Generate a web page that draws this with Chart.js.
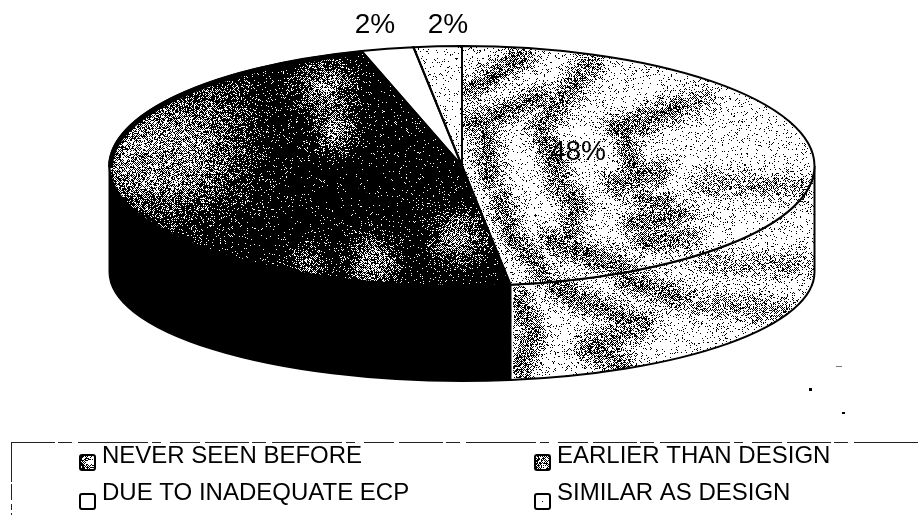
<!DOCTYPE html>
<html lang="en">
<head>
    <meta charset="UTF-8">
    <title>Pie chart</title>
    <style>
        html, body { margin: 0; padding: 0; background: #fff; }
        #wrap { width: 918px; height: 515px; }
    </style>
    <script src="https://cdn.jsdelivr.net/npm/chart.js"></script>
</head>
<body>
    <div id="wrap"><canvas id="pie" width="918" height="515"></canvas></div>

    <script>
        const categories = ['NEVER SEEN BEFORE', 'EARLIER THAN DESIGN', 'DUE TO INADEQUATE ECP', 'SIMILAR AS DESIGN'];
        const sliceValues = [47.8, 47.6, 2.4, 2.2];

        // ellipse of the tilted pie, top face and bottom rim
        const pie = { cx: 462, cy: 166, rx: 352.5, ry: 120, wallCy: 272, wallRy: 109 };
        const labelSpots = [[578, 152], [372, 185], [375, 25], [448, 25]];
        const legendSpots = [[80, 102, 456], [535, 557, 456], [80, 102, 493], [535, 557, 493]];

        // scanned halftone: grey bands on the light slice, blotches on the dark one
        const lightBands = [
            [473, 87, 520, 57], [473, 123, 540, 97], [483, 125, 490, 177], [540, 127, 590, 63],
            [617, 128, 703, 100], [545, 140, 560, 180], [625, 135, 633, 165], [557, 180, 577, 203],
            [577, 203, 567, 237], [550, 240, 600, 260], [600, 260, 623, 267], [500, 200, 513, 237],
            [513, 237, 543, 273], [617, 183, 657, 173], [643, 197, 663, 203], [633, 223, 687, 213],
            [643, 240, 690, 237], [700, 183, 800, 187], [557, 287, 610, 313], [610, 313, 643, 323],
            [627, 280, 700, 303], [700, 303, 783, 310], [707, 263, 800, 263], [520, 300, 533, 333],
            [533, 333, 520, 367], [587, 347, 633, 327], [587, 347, 623, 363]
        ];
        const darkBlobs = [
            [175, 150, 58, 0.6], [130, 165, 30, 0.35], [325, 88, 26, 0.5], [335, 132, 18, 0.45],
            [230, 95, 30, 0.12], [373, 263, 22, 0.55], [457, 237, 24, 0.5], [307, 263, 16, 0.35]
        ];

        function noise(x, y) {
            let h = (x * 374761393 + y * 668265263) | 0;
            h = Math.imul(h ^ (h >>> 13), 1274126177);
            h ^= h >>> 16;
            return (h >>> 0) / 4294967296;
        }

        function segDist(x, y, b) {
            const dx = b[2] - b[0], dy = b[3] - b[1];
            let t = ((x - b[0]) * dx + (y - b[1]) * dy) / (dx * dx + dy * dy);
            t = Math.max(0, Math.min(1, t));
            return Math.hypot(x - b[0] - t * dx, y - b[1] - t * dy);
        }

        // denser areas lean on a checkerboard, like the halftone in the scan
        function makeTexture(inkAt) {
            const c = document.createElement('canvas');
            c.width = 918;
            c.height = 515;
            const g = c.getContext('2d');
            const img = g.createImageData(918, 515);
            for (let y = 0; y < 515; y++) {
                for (let x = 0; x < 918; x++) {
                    const ink = inkAt(x, y);
                    const weight = Math.min(1, Math.max(0, (0.5 - Math.abs(ink - 0.5)) * 3));
                    const p = ink + weight * 0.45 * ((x + y) % 2 ? 0.5 : -0.5);
                    const v = noise(x, y) < p ? 0 : 255;
                    const i = (y * 918 + x) * 4;
                    img.data[i] = img.data[i + 1] = img.data[i + 2] = v;
                    img.data[i + 3] = 255;
                }
            }
            g.putImageData(img, 0, 0);
            return c;
        }

        const lightTexture = makeTexture((x, y) => {
            if (y < 40 || y > 390 || x < 455 || x > 825) return 0.08;
            let d = 99;
            for (const b of lightBands) d = Math.min(d, segDist(x, y, b));
            const fade = x > 680 ? 0.3 : 0.5;
            return 0.07 + fade * Math.exp(-d * d / 170);
        });
        const darkTexture = makeTexture((x, y) => {
            let white = 0.03;
            for (const b of darkBlobs) {
                const d = Math.hypot(x - b[0], y - b[1]);
                white += b[3] * Math.exp(-d * d / (b[2] * b[2]));
            }
            return 1 - Math.min(0.55, white);
        });
        const speckTexture = makeTexture(() => 0.06);

        const patternCtx = document.createElement('canvas').getContext('2d');
        const fills = [
            patternCtx.createPattern(lightTexture, 'no-repeat'),
            patternCtx.createPattern(darkTexture, 'no-repeat'),
            '#ffffff',
            patternCtx.createPattern(speckTexture, 'no-repeat')
        ];

        function wallPath(ctx, a0, a1) {
            ctx.beginPath();
            ctx.ellipse(pie.cx, pie.cy, pie.rx, pie.ry, 0, a0, a1);
            ctx.ellipse(pie.cx, pie.wallCy, pie.rx, pie.wallRy, 0, a1, a0, true);
            ctx.closePath();
        }

        const tiltedPie = {
            id: 'tiltedPie',
            beforeDatasetsDraw(chart) {
                const ctx = chart.ctx;
                const arcs = chart.getDatasetMeta(0).data;
                // side wall, only the front half of the rim shows
                arcs.forEach((arc, i) => {
                    const a0 = Math.max(arc.startAngle, 0);
                    const a1 = Math.min(arc.endAngle, Math.PI);
                    if (a1 <= a0) return;
                    ctx.save();
                    wallPath(ctx, a0, a1);
                    ctx.clip();
                    if (i === 0) ctx.drawImage(lightTexture, 0, 0);
                    else { ctx.fillStyle = '#000'; ctx.fillRect(0, 0, 918, 515); }
                    ctx.restore();
                    ctx.lineWidth = 2;
                    ctx.strokeStyle = '#000';
                    wallPath(ctx, a0, a1);
                    ctx.stroke();
                });
                const a = arcs[0];
                ctx.save();
                ctx.translate(pie.cx, pie.cy);
                ctx.scale(pie.rx / a.outerRadius, pie.ry / a.outerRadius);
                ctx.translate(-a.x, -a.y);
                // keep the halftone in page pixels, not squashed with the pie
                const inv = ctx.getTransform().inverse();
                fills.forEach(f => { if (f instanceof CanvasPattern) f.setTransform(inv); });
            },
            afterDatasetsDraw(chart) {
                const ctx = chart.ctx;
                ctx.restore();
                const arcs = chart.getDatasetMeta(0).data;
                ctx.strokeStyle = '#000';
                ctx.lineWidth = 2;
                arcs.forEach(arc => {
                    ctx.beginPath();
                    ctx.moveTo(pie.cx, pie.cy);
                    ctx.ellipse(pie.cx, pie.cy, pie.rx, pie.ry, 0, arc.startAngle, arc.endAngle);
                    ctx.closePath();
                    ctx.stroke();
                });

                // the dark slice has a heavy rim in the scan
                ctx.lineWidth = 5;
                ctx.beginPath();
                ctx.ellipse(pie.cx, pie.cy + 1, pie.rx - 1, pie.ry - 1, 0, Math.PI, arcs[1].endAngle);
                ctx.stroke();

                // white seam where the dark wall meets the speckled one
                const seam = arcs[1].startAngle;
                const sx = pie.cx + pie.rx * Math.cos(seam);
                const topY = pie.cy + pie.ry * Math.sin(seam);
                const botY = pie.wallCy + pie.wallRy * Math.sin(seam);
                ctx.fillStyle = '#fff';
                ctx.fillRect(sx + 1, topY + 1, 1.5, botY - topY - 2);

                ctx.fillStyle = '#000';
                ctx.font = '28px "Liberation Sans", Arial, sans-serif';
                ctx.textAlign = 'center';
                ctx.textBaseline = 'middle';
                sliceValues.forEach((v, i) => {
                    ctx.fillText(Math.round(v) + '%', labelSpots[i][0], labelSpots[i][1]);
                });

                drawLegend(ctx);

                // dust from the scan
                ctx.fillStyle = '#000';
                ctx.fillRect(809, 388, 3, 3);
                ctx.fillRect(842, 412, 3, 2);
                ctx.fillStyle = '#777';
                ctx.fillRect(836, 366, 6, 1);
            }
        };

        function drawLegend(ctx) {
            ctx.strokeStyle = '#222';
            ctx.lineWidth = 1;
            ctx.setLineDash([44, 3, 14, 6, 70, 4, 9, 9, 30, 5]);
            ctx.beginPath();
            ctx.moveTo(11, 442.5);
            ctx.lineTo(918, 442.5);
            ctx.stroke();
            ctx.setLineDash([40, 2, 16, 4, 6, 3]);
            ctx.beginPath();
            ctx.moveTo(11.5, 442);
            ctx.lineTo(11.5, 515);
            ctx.stroke();
            ctx.setLineDash([]);

            ctx.font = '24px "Liberation Sans", Arial, sans-serif';
            ctx.textAlign = 'left';
            ctx.textBaseline = 'middle';
            categories.forEach((name, i) => {
                const [bx, tx, ty] = legendSpots[i];
                const by = ty + (i < 2 ? -1 : 1);
                ctx.fillStyle = '#fff';
                ctx.fillRect(bx, by, 15, 15);
                if (i === 0) ctx.drawImage(lightTexture, 555, 150, 15, 15, bx, by, 15, 15);
                if (i === 1) ctx.drawImage(darkTexture, 170, 145, 15, 15, bx, by, 15, 15);
                if (i === 3) { ctx.fillStyle = '#000'; ctx.fillRect(bx + 7, by + 7, 1, 1); }
                ctx.strokeStyle = '#000';
                ctx.lineWidth = 2;
                ctx.beginPath();
                ctx.roundRect(bx, by, 15, 15, 2);
                ctx.stroke();
                ctx.fillStyle = '#000';
                ctx.fillText(name, tx, ty);
            });
        }

        new Chart(document.getElementById('pie').getContext('2d'), {
            type: 'pie',
            data: {
                labels: categories,
                datasets: [{
                    data: sliceValues,
                    backgroundColor: fills,
                    borderWidth: 0
                }]
            },
            options: {
                responsive: false,
                animation: false,
                plugins: {
                    legend: { display: false },
                    tooltip: { enabled: false }
                }
            },
            plugins: [tiltedPie]
        });
    </script>
</body>
</html>
